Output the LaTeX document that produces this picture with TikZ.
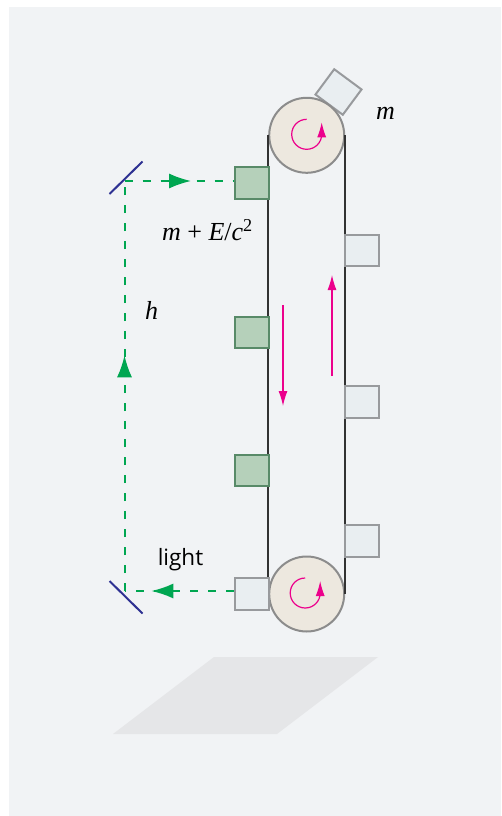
\documentclass[tikz,border=0pt]{standalone}
\usepackage{fontspec}
\setmainfont{Liberation Serif}
\setsansfont{Open Sans}
\usetikzlibrary{arrows.meta,decorations.markings}
\definecolor{panelgrey}{RGB}{241,243,245}
\definecolor{floorgrey}{RGB}{229,230,232}
\definecolor{wheelfill}{RGB}{237,232,223}
\definecolor{wheelline}{RGB}{140,140,140}
\definecolor{coldfill}{RGB}{233,238,241}
\definecolor{coldline}{RGB}{152,154,157}
\definecolor{hotfill}{RGB}{181,208,186}
\definecolor{hotline}{RGB}{88,138,104}
\definecolor{raygreen}{RGB}{0,166,81}
\definecolor{mirrorblue}{RGB}{46,49,146}
\definecolor{spinpink}{RGB}{236,0,140}
\definecolor{beltgrey}{RGB}{50,50,50}
\tikzset{
  wheel/.style={draw=wheelline,fill=wheelfill,circle,line width=2pt,minimum size=75pt,inner sep=0pt},
  cold/.style={draw=coldline,fill=coldfill,line width=2pt,minimum width=34pt,minimum height=31.5pt,inner sep=0pt},
  hot/.style={draw=hotline,fill=hotfill,line width=2pt,minimum width=34pt,minimum height=31.5pt,inner sep=0pt},
  ray/.style={draw=raygreen,line width=2pt,dash pattern=on 8pt off 10pt,
    postaction={decorate,decoration={markings,mark=at position #1 with {\arrow[raygreen,solid]{Latex[length=22pt,width=15pt]}}}}},
  mirror/.style={draw=mirrorblue,line width=2pt},
  spin/.style={draw=spinpink,line width=1.2pt,-{Latex[length=15pt,width=9pt]}},
  belt/.style={draw=beltgrey,line width=2pt},
  maths/.style={font=\fontsize{26}{30}\selectfont,inner sep=0pt},
}
\begin{document}
\begin{tikzpicture}[x=1pt,y=-1pt,>=Latex]
        \useasboundingbox (0,0) rectangle (501,816);
        \fill[panelgrey] (9,7) rectangle (501,816);
        \fill[floorgrey] (214,657) -- (378,657) -- (277,734) -- (113,734) -- cycle;
        \node[cold,rotate=-36.5] (top) at (338.5,92) {};
        \node[wheel] (wt) at (306.7,135.3) {};
        \node[wheel] (wb) at (306.7,594) {};
        \draw[belt] (wt.west) -- (wb.west);
        \draw[belt] (wt.east) -- (wb.east);
        \node[hot] (h1) at (251.7,183) {};
        \node[hot] (h2) at (251.7,332.5) {};
        \node[hot] (h3) at (251.7,470.5) {};
        \node[cold] (c0) at (251.7,594) {};
        \node[cold] (c1) at (361.5,250.5) {};
        \node[cold] (c2) at (361.5,402) {};
        \node[cold] (c3) at (361.5,541) {};
        \coordinate (mt) at (124.5,181);
        \coordinate (mb) at (124.5,591);
        \coordinate (mt1) at (109.5,194);
        \coordinate (mt2) at (142.5,161.5);
        \coordinate (mb1) at (109.5,581);
        \coordinate (mb2) at (142.5,613.5);
        \draw[mirror] (mt1) -- (mt2);
        \draw[mirror] (mb1) -- (mb2);
        \draw[ray=.755] (c0.west |- mb) -- (mb);
        \draw[ray=.575] (mb) -- (mt);
        \draw[ray=.61] (mt) -- (h1.west |- mt);
        \coordinate (dn1) at (283,305);
        \coordinate (dn2) at (283,406);
        \coordinate (up1) at (332,376);
        \coordinate (up2) at (332,275);
        \draw[spin] (dn1) -- (dn2);
        \draw[spin] (up1) -- (up2);
        \draw[spin] ([yshift=16pt]wt.center) arc[start angle=90,end angle=360,radius=15pt] -- ++(0,-12);
        \draw[spin] ([xshift=-1.5pt,yshift=16pt]wb.center) arc[start angle=90,end angle=360,radius=15pt] -- ++(0,-12);
        \node[maths] (lm) at (385.5,113) {\textit{m}};
        \node[maths] (le) at (207.5,230) {\textit{m} + \textit{E}/\textit{c}\textsuperscript{2}};
        \node[maths] (lh) at (151.5,310) {\textit{h}};
        \node[font=\sffamily\fontsize{22.5}{26}\selectfont,inner sep=0pt] (ll) at (180.5,560) {light};
      \end{tikzpicture}
\end{document}
